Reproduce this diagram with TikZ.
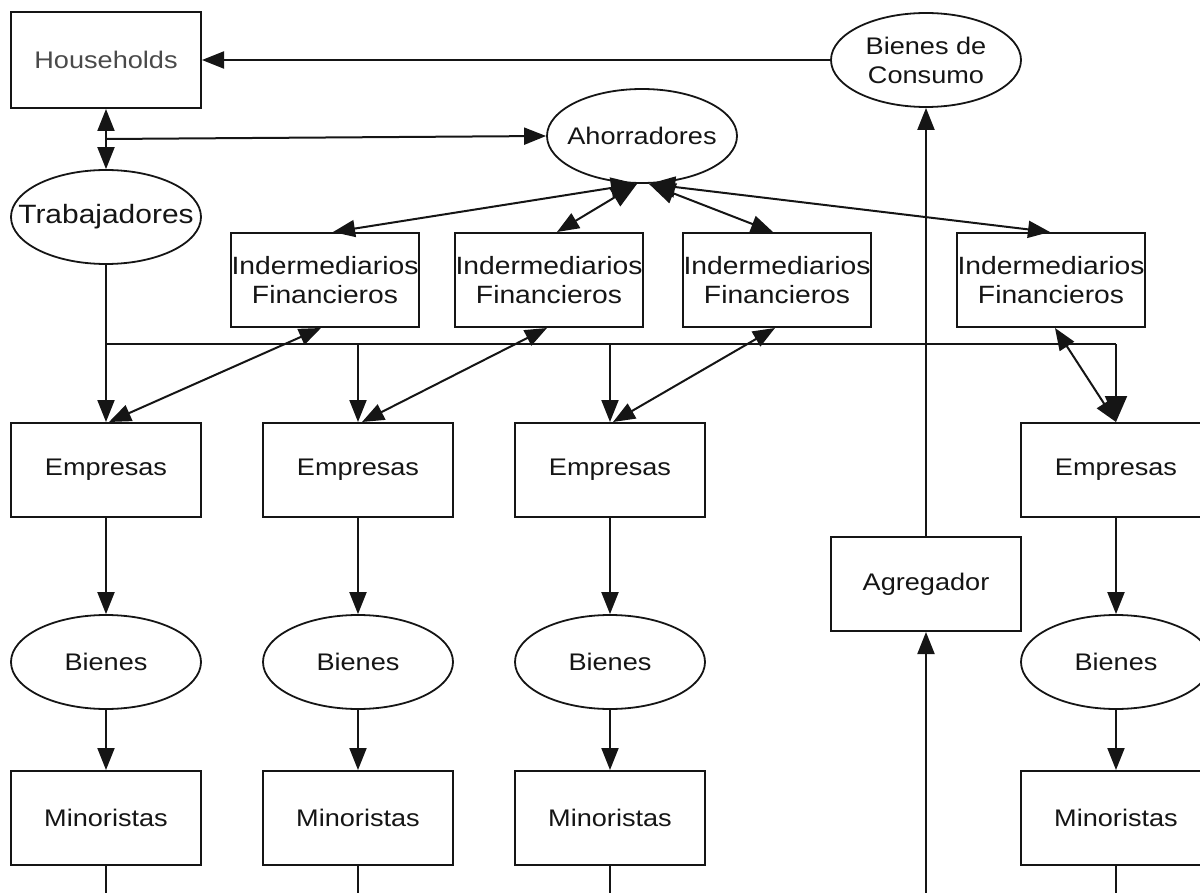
\documentclass[tikz,border=0pt]{standalone}
\usepackage{fontspec}
\setmainfont{Liberation Sans}[FakeStretch=1.13]
\usetikzlibrary{shapes.geometric,arrows.meta,calc}
\definecolor{ink}{HTML}{151515}
\definecolor{softink}{HTML}{4A4A4A}
% a zero-width centred line, so that an ellipse keeps its set size
\newcommand{\zl}[1]{\makebox[0pt][c]{#1}}
\begin{document}
\begin{tikzpicture}[x=1pt,y=-1pt,
  every node/.style={font=\fontsize{24}{29}\selectfont, text=ink, align=center},
  box/.style={draw=ink, line width=2pt, rectangle, minimum width=190pt, minimum height=94pt, inner sep=0pt},
  oval/.style={draw=ink, line width=1.8pt, ellipse, minimum width=190pt, minimum height=94pt, inner sep=0pt},
  link/.style={draw=ink, line width=2pt, -{Triangle[length=22pt,width=17pt]}},
  link2/.style={draw=ink, line width=2pt, {Triangle[length=22pt,width=17pt]}-{Triangle[length=22pt,width=17pt]}},
  biglink/.style={draw=ink, line width=2pt, {Triangle[length=26pt,width=21pt]}-{Triangle[length=22pt,width=17pt]}},
  plain/.style={draw=ink, line width=2pt}]
\useasboundingbox (0,0) rectangle (1200,893);
\clip (0,0) rectangle (1200,893);

% top row
\node[box, minimum height=96pt, text=softink] (hh) at (106,60) {Households};
\node[oval] (bdc) at (926,60) {\zl{Bienes de}\\\zl{Consumo}};
\node[oval] (ahorr) at (642,136) {\zl{Ahorradores}};
\node[oval, font=\fontsize{26.5}{31}\selectfont] (trab) at (106,217) {\zl{Trabajadores}};

% financial intermediaries
\node[box, minimum width=188pt, font=\fontsize{25}{29}\selectfont] (if1) at (325,280) {Indermediarios\\Financieros};
\node[box, minimum width=188pt, font=\fontsize{25}{29}\selectfont] (if2) at (549,280) {Indermediarios\\Financieros};
\node[box, minimum width=188pt, font=\fontsize{25}{29}\selectfont] (if3) at (777,280) {Indermediarios\\Financieros};
\node[box, minimum width=188pt, font=\fontsize{25}{29}\selectfont] (if4) at (1051,280) {Indermediarios\\Financieros};

% firms, goods, retailers
\node[box] (e1) at (106,470) {Empresas};
\node[box] (e2) at (358,470) {Empresas};
\node[box] (e3) at (610,470) {Empresas};
\node[box] (e4) at (1116,470) {Empresas};

\node[oval] (b1) at (106,662) {\zl{Bienes}};
\node[oval] (b2) at (358,662) {\zl{Bienes}};
\node[oval] (b3) at (610,662) {\zl{Bienes}};
\node[oval] (b4) at (1116,662) {\zl{Bienes}};

\node[box] (m1) at (106,818) {Minoristas};
\node[box] (m2) at (358,818) {Minoristas};
\node[box] (m3) at (610,818) {Minoristas};
\node[box] (m4) at (1116,818) {Minoristas};

\node[box] (agg) at (926,584) {Agregador};

% auxiliary points
\coordinate (split) at (106,139);
\coordinate (bus1) at (106,344);
\coordinate (bus2) at (358,344);
\coordinate (bus3) at (610,344);
\coordinate (bus4) at (1116,344);
\coordinate (aggsrc) at (926,900);
\coordinate (m1end) at (106,900);
\coordinate (m2end) at (358,900);
\coordinate (m3end) at (610,900);
\coordinate (m4end) at (1116,900);

% households and consumption
\draw[link] (bdc.west) -- (hh.east);
\draw[link2] (hh.south) -- (trab.north);
\draw[link] (split) -- (ahorr.west);

% savers to intermediaries
\draw[biglink] ($(ahorr.south)+(-5,0)$) -- ($(if1.north)+(8,0)$);
\draw[biglink] ($(ahorr.south)+(-5,0)$) -- ($(if2.north)+(8,0)$);
\draw[biglink] ($(ahorr.south)+(7,0)$) -- ($(if3.north)+(-4,0)$);
\draw[biglink] ($(ahorr.south)+(7,0)$) -- ($(if4.north)+(-1,0)$);

% labour bus to firms
\draw[link] (trab.south) -- (e1.north);
\draw[plain] (bus1) -- (bus4);
\draw[link, -{Triangle[length=26pt,width=22pt]}] (bus4) -- (e4.north);
\draw[link] (bus2) -- (e2.north);
\draw[link] (bus3) -- (e3.north);

% intermediaries to firms
\draw[link2] ($(if1.south)+(-4,0)$) -- ($(e1.north)+(3,0)$);
\draw[link2] ($(if2.south)+(-2,0)$) -- ($(e2.north)+(4,0)$);
\draw[link2] ($(if3.south)+(-2,0)$) -- ($(e3.north)+(3,0)$);
\draw[link2] ($(if4.south)+(4,0)$) -- ($(e4.north)+(0,0)$);

% firms to goods to retailers
\foreach \i in {1,2,3,4} {
  \draw[link] (e\i.south) -- (b\i.north);
  \draw[link] (b\i.south) -- (m\i.north);
  \draw[plain] (m\i.south) -- (m\i end);
}

% aggregator
\draw[link] (aggsrc) -- (agg.south);
\draw[link] (agg.north) -- (bdc.south);
\end{tikzpicture}
\end{document}
